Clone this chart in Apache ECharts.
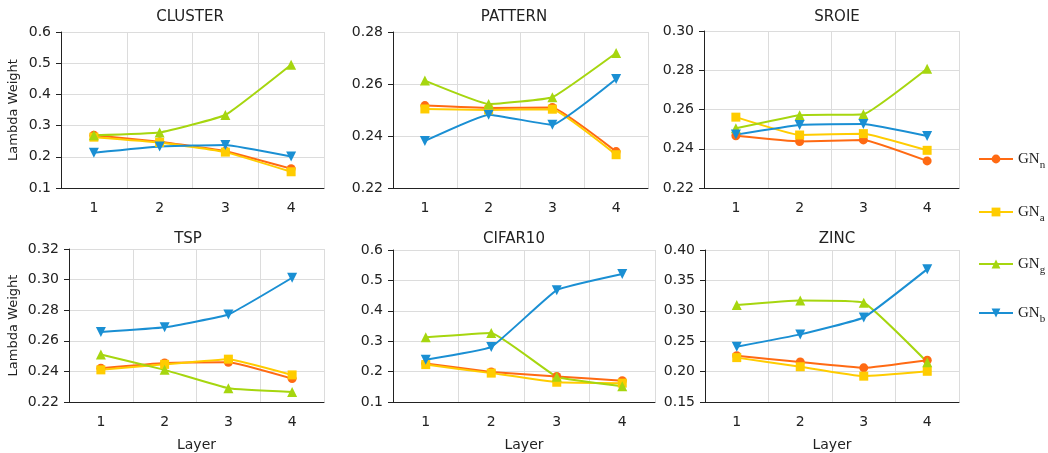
<!DOCTYPE html>
<html>
<head>
<meta charset="utf-8">
<script src="https://cdn.jsdelivr.net/npm/echarts@6/dist/echarts.min.js"></script>
<style>
html,body{margin:0;padding:0;background:#fff;}
#chart{width:1048px;height:453px;}
</style>
</head>
<body>
<div id="chart"></div>
<script>
// ---- data ----
const layers = ['1', '2', '3', '4'];
const seriesNames = ['GN_n', 'GN_a', 'GN_g', 'GN_b'];
const datasetTitles = ['CLUSTER', 'PATTERN', 'SROIE', 'TSP', 'CIFAR10', 'ZINC'];

// per dataset values: GN_n, GN_a, GN_g, GN_b
const clusterN = [0.269, 0.248, 0.218, 0.162];
const clusterA = [0.263, 0.246, 0.215, 0.152];
const clusterG = [0.269, 0.278, 0.334, 0.495];
const clusterB = [0.213, 0.233, 0.238, 0.201];

const patternN = [0.2517, 0.2508, 0.2510, 0.2340];
const patternA = [0.2504, 0.2500, 0.2503, 0.2328];
const patternG = [0.2613, 0.2523, 0.2549, 0.2719];
const patternB = [0.2381, 0.2482, 0.2443, 0.2619];

const sroieN = [0.2466, 0.2437, 0.2445, 0.2338];
const sroieA = [0.2561, 0.2470, 0.2477, 0.2392];
const sroieG = [0.2504, 0.2571, 0.2576, 0.2808];
const sroieB = [0.2472, 0.2521, 0.2526, 0.2465];

const tspN = [0.2421, 0.2455, 0.2460, 0.2353];
const tspA = [0.2410, 0.2446, 0.2480, 0.2377];
const tspG = [0.2510, 0.2410, 0.2290, 0.2266];
const tspB = [0.2657, 0.2688, 0.2772, 0.3012];

const cifarN = [0.227, 0.199, 0.184, 0.170];
const cifarA = [0.223, 0.195, 0.165, 0.162];
const cifarG = [0.313, 0.327, 0.183, 0.152];
const cifarB = [0.239, 0.281, 0.468, 0.521];

const zincN = [0.226, 0.2158, 0.2062, 0.2188];
const zincA = [0.2230, 0.2080, 0.1925, 0.2005];
const zincG = [0.3095, 0.3168, 0.3132, 0.2155];
const zincB = [0.2410, 0.2612, 0.2890, 0.3685];

// y tick labels per dataset
const clusterTicks = ['0.1', '0.2', '0.3', '0.4', '0.5', '0.6'];
const patternTicks = ['0.22', '0.24', '0.26', '0.28'];
const sroieTicks = ['0.22', '0.24', '0.26', '0.28', '0.30'];
const tspTicks = ['0.22', '0.24', '0.26', '0.28', '0.30', '0.32'];
const cifarTicks = ['0.1', '0.2', '0.3', '0.4', '0.5', '0.6'];
const zincTicks = ['0.15', '0.20', '0.25', '0.30', '0.35', '0.40'];

const allValues = [
  [clusterN, clusterA, clusterG, clusterB],
  [patternN, patternA, patternG, patternB],
  [sroieN, sroieA, sroieG, sroieB],
  [tspN, tspA, tspG, tspB],
  [cifarN, cifarA, cifarG, cifarB],
  [zincN, zincA, zincG, zincB]
];
const allTicks = [clusterTicks, patternTicks, sroieTicks, tspTicks, cifarTicks, zincTicks];

// ---- layout / style ----
const grids = [
  {left: 61, top: 32, width: 263, height: 156},
  {left: 393, top: 32, width: 255, height: 156},
  {left: 704, top: 31, width: 255, height: 157},
  {left: 69, top: 249, width: 255, height: 157},
  {left: 393, top: 250, width: 262, height: 156},
  {left: 705, top: 250, width: 254, height: 157}
];
const titlePos = [
  {x: 185, y: 5}, {x: 509, y: 5}, {x: 832, y: 5},
  {x: 183, y: 227}, {x: 509, y: 227}, {x: 832, y: 227}
];
const colors = ['#FF6A13', '#FFCC00', '#A6D60F', '#1A8FD3'];
const symbols = ['circle', 'rect', 'triangle', 'triangle'];
const symbolRot = [0, 0, 0, 180];
const symbolSizes = [9, 9, 10, 10];
const legendY = [152, 205, 257, 306];
const subs = {GN_n: 'n', GN_a: 'a', GN_g: 'g', GN_b: 'b'};

const axisColor = '#222';
const gridColor = '#dcdcdc';
const font = 'DejaVu Sans';

const option = {
  animation: false,
  backgroundColor: '#fff',
  title: datasetTitles.map((t, i) => ({
    text: t,
    left: titlePos[i].x,
    top: titlePos[i].y,
    textAlign: 'center',
    textStyle: {fontFamily: font, fontSize: 15, fontWeight: 'normal', color: '#222'}
  })),
  legend: seriesNames.map((n, i) => ({
    data: [n],
    orient: 'vertical',
    left: 973,
    top: legendY[i] - 5.5,
    itemWidth: 34,
    itemHeight: 11,
    itemGap: 0,
    formatter: name => '{m|GN}{s|' + subs[name] + '}',
    textStyle: {
      rich: {
        m: {fontFamily: 'Liberation Serif', fontSize: 15, color: '#222', lineHeight: 22, verticalAlign: 'middle'},
        s: {fontFamily: 'Liberation Serif', fontSize: 11, color: '#222', lineHeight: 23, verticalAlign: 'bottom'}
      }
    }
  })),
  grid: grids.map(g => Object.assign({containLabel: false}, g)),
  xAxis: grids.map((g, i) => ({
    type: 'category',
    gridIndex: i,
    data: layers,
    boundaryGap: true,
    name: i >= 3 ? 'Layer' : '',
    nameLocation: 'middle',
    nameGap: 36,
    nameTextStyle: {fontFamily: font, fontSize: 14, color: '#222'},
    axisLine: {lineStyle: {color: axisColor, width: 1}},
    axisTick: {alignWithLabel: true, length: 5, lineStyle: {color: axisColor}},
    axisLabel: {fontFamily: font, fontSize: 14, color: '#222', margin: 13},
    splitLine: {show: true, lineStyle: {color: gridColor, width: 1}}
  })),
  yAxis: allTicks.map((t, i) => {
    const mn = parseFloat(t[0]);
    const mx = parseFloat(t[t.length - 1]);
    const step = Math.round((parseFloat(t[1]) - mn) * 10000) / 10000;
    const dec = t[0].split('.')[1].length;
    return {
      type: 'value',
      gridIndex: i,
      min: mn,
      max: mx,
      interval: step,
      name: (i === 0 || i === 3) ? 'Lambda Weight' : '',
      nameLocation: 'middle',
      nameGap: i === 0 ? 41 : 49,
      nameTextStyle: {fontFamily: font, fontSize: 13, color: '#222'},
      axisLine: {show: true, lineStyle: {color: axisColor, width: 1}},
      axisTick: {show: true, length: 5, lineStyle: {color: axisColor}},
      axisLabel: {fontFamily: font, fontSize: 14, color: '#222', margin: 10,
        formatter: v => v.toFixed(dec)},
      splitLine: {show: true, lineStyle: {color: gridColor, width: 1}}
    };
  }),
  series: []
};

allValues.forEach((vals, gi) => {
  vals.forEach((arr, si) => {
    option.series.push({
      type: 'line',
      name: seriesNames[si],
      xAxisIndex: gi,
      yAxisIndex: gi,
      data: arr,
      smooth: 0.1,
      symbol: symbols[si],
      symbolRotate: symbolRot[si],
      symbolSize: symbolSizes[si],
      showSymbol: true,
      itemStyle: {color: colors[si]},
      lineStyle: {color: colors[si], width: 2},
      emphasis: {disabled: true}
    });
  });
});

const chart = echarts.init(document.getElementById('chart'), null, {renderer: 'canvas'});
chart.setOption(option);
</script>
</body>
</html>
